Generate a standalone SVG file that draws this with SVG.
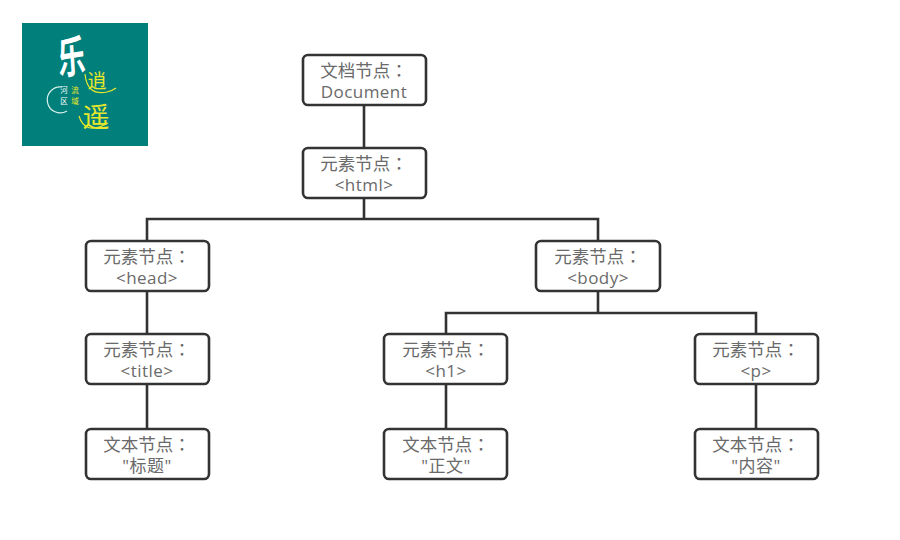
<svg xmlns="http://www.w3.org/2000/svg" width="900" height="540" viewBox="0 0 900 540">
<style>
.b{fill:#fff;stroke:#333;stroke-width:2.6}
.t{font-family:"Noto Sans CJK SC",sans-serif;font-size:17.5px;fill:#6a6a6a;text-anchor:middle}
.k{font-family:"Noto Sans CJK TC",sans-serif}
.u{font-family:"Open Sans","Noto Sans CJK SC",sans-serif;font-size:17px;letter-spacing:.45px;fill:#6a6a6a;text-anchor:middle}
.c{fill:none;stroke:#333;stroke-width:2.6}
.lw{font-family:"Noto Sans CJK SC",sans-serif;fill:#fff;text-anchor:middle;font-weight:700}
.ly{font-family:"Noto Sans CJK SC",sans-serif;fill:#e8e82a;text-anchor:middle}
.ls{font-family:"Noto Sans CJK SC",sans-serif;font-size:7.5px;text-anchor:middle}
</style>
<rect width="900" height="540" fill="#fff"/>
<g id="logo">
<rect x="22" y="23" width="126" height="123" fill="#007f7b"/>
<text class="lw" font-size="38" transform="translate(72.5 73) scale(.72 1.15) rotate(-6)">乐</text>
<text class="ly" font-size="19" x="97" y="88">逍</text>
<text class="ly" font-size="27" x="96" y="127">遥</text>
<path d="M62 87a13 13 0 1 0 5 24" fill="none" stroke="#d8efe8" stroke-width="1.2"/>
<path d="M85 74q2 22 22 18q5-1 9-4M79 116q6 20 29 7" fill="none" stroke="#e8e82a" stroke-width="1.2"/>
<text class="ls" x="64" y="93" fill="#fff">河</text><text class="ls" x="75" y="93" fill="#e8e82a">流</text>
<text class="ls" x="64" y="104" fill="#fff">区</text><text class="ls" x="75" y="104" fill="#e8e82a">域</text>
</g>
<g id="connectors" class="c">
<path d="M364 105V148M364 198V219M147 241V219H598V241M147 291V334M147 384V429M598 291V313M446 334V313H756V334M446 384V429M756 384V429"/>
</g>
<g id="document"><rect class="b" x="303" y="55" width="123" height="50" rx="5"/><text class="t" x="364" y="77">文档节点<tspan class="k">：</tspan></text><text class="u" x="364" y="98">Document</text></g>
<g id="html"><rect class="b" x="303" y="148" width="123" height="50" rx="5"/><text class="t" x="364" y="170">元素节点<tspan class="k">：</tspan></text><text class="u" x="364" y="191">&lt;html&gt;</text></g>
<g id="head"><rect class="b" x="86" y="241" width="123" height="50" rx="5"/><text class="t" x="147" y="263">元素节点<tspan class="k">：</tspan></text><text class="u" x="147" y="284">&lt;head&gt;</text></g>
<g id="body"><rect class="b" x="536" y="241" width="124" height="50" rx="5"/><text class="t" x="598" y="263">元素节点<tspan class="k">：</tspan></text><text class="u" x="598" y="284">&lt;body&gt;</text></g>
<g id="title"><rect class="b" x="86" y="334" width="123" height="50" rx="5"/><text class="t" x="147" y="356">元素节点<tspan class="k">：</tspan></text><text class="u" x="147" y="377">&lt;title&gt;</text></g>
<g id="h1"><rect class="b" x="384" y="334" width="123" height="50" rx="5"/><text class="t" x="446" y="356">元素节点<tspan class="k">：</tspan></text><text class="u" x="446" y="377">&lt;h1&gt;</text></g>
<g id="p"><rect class="b" x="695" y="334" width="123" height="50" rx="5"/><text class="t" x="756" y="356">元素节点<tspan class="k">：</tspan></text><text class="u" x="756" y="377">&lt;p&gt;</text></g>
<g id="text-title"><rect class="b" x="86" y="429" width="123" height="50" rx="5"/><text class="t" x="147" y="451">文本节点<tspan class="k">：</tspan></text><text class="u" x="147" y="472">"标题"</text></g>
<g id="text-h1"><rect class="b" x="384" y="429" width="123" height="50" rx="5"/><text class="t" x="446" y="451">文本节点<tspan class="k">：</tspan></text><text class="u" x="446" y="472">"正文"</text></g>
<g id="text-p"><rect class="b" x="695" y="429" width="123" height="50" rx="5"/><text class="t" x="756" y="451">文本节点<tspan class="k">：</tspan></text><text class="u" x="756" y="472">"内容"</text></g>
</svg>
